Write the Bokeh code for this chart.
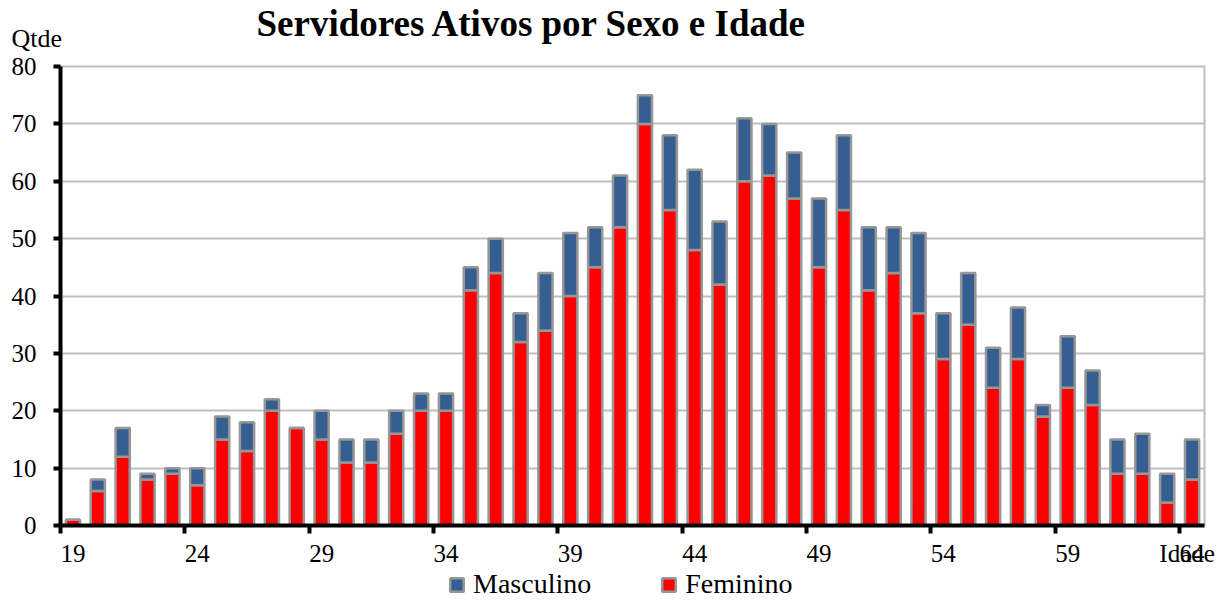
import numpy as np
from bokeh.plotting import figure
from bokeh.layouts import column
from bokeh.models import Range1d, FixedTicker, Legend, LegendItem, ColumnDataSource, Title
from bokeh.embed import file_html
from bokeh.resources import INLINE

# ---- data ----
idade = list(range(19, 65))
feminino = [1, 6, 12, 8, 9, 7, 15, 13, 20, 17,
            15, 11, 11, 16, 20, 20, 41, 44, 32, 34,
            40, 45, 52, 70, 55, 48, 42, 60, 61, 57,
            45, 55, 41, 44, 37, 29, 35, 24, 29, 19,
            24, 21, 9, 9, 4, 8]
masculino = [0, 2, 5, 1, 1, 3, 4, 5, 2, 0,
             5, 4, 4, 4, 3, 3, 4, 6, 5, 10,
             11, 7, 9, 5, 13, 14, 11, 11, 9, 8,
             12, 13, 11, 8, 14, 8, 9, 7, 9, 2,
             9, 6, 6, 7, 5, 7]
x_tick_labels = [19, 24, 29, 34, 39, 44, 49, 54, 59, 64]
y_ticks = [0, 10, 20, 30, 40, 50, 60, 70, 80]
x_axis_title_pos = 63.8   # where "Idade" sits on the x-axis label row

FONT = "Liberation Serif"
BLUE = "#365F91"
RED = "#FF0000"
EDGE = "#979797"

src = ColumnDataSource(dict(idade=idade, Feminino=feminino, Masculino=masculino))

p = figure(width=1219, height=569, output_backend="svg", toolbar_location=None,
           x_range=Range1d(18.5, 64.5), y_range=Range1d(0, 80),
           min_border_left=60, min_border_right=15, min_border_top=66, min_border_bottom=42,
           background_fill_color="white", border_fill_color="white")
p.title.text = "Servidores Ativos por Sexo e Idade"
p.title.text_font = FONT
p.title.text_font_style = "bold"
p.title.text_font_size = "37px"
p.title.text_color = "black"
p.title.align = "left"
p.title.offset = 196
p.title.standoff = -70
p.outline_line_color = "#BFBFBF"
p.outline_line_width = 2

# "Qtde" as a small left-aligned caption just above the plot area
p.add_layout(Title(text="Qtde", text_font=FONT, text_font_size="26px", text_font_style="normal",
                   text_color="black", align="left", offset=-49, standoff=27), "above")

rs = p.vbar_stack(["Feminino", "Masculino"], x="idade", width=0.57, source=src,
                  fill_color=[RED, BLUE], line_color=EDGE, line_width=2.5)

# x axis: labels at category centres, tick marks at category boundaries
xa = p.xaxis[0]
xa.ticker = FixedTicker(ticks=x_tick_labels + [x_axis_title_pos],
                        minor_ticks=[a - 0.5 for a in x_tick_labels])
xa.major_label_overrides = {x_axis_title_pos: "Idade"}
xa.major_tick_line_color = None
xa.major_tick_out = 8
xa.major_tick_in = 0
xa.minor_tick_line_color = "black"
xa.minor_tick_line_width = 4
xa.minor_tick_out = 8
xa.minor_tick_in = 0
xa.axis_line_color = "black"
xa.axis_line_width = 4
xa.major_label_text_font = FONT
xa.major_label_text_font_size = "25px"
xa.major_label_text_color = "black"
xa.major_label_standoff = 6

ya = p.yaxis[0]
ya.ticker = FixedTicker(ticks=y_ticks)
ya.minor_tick_line_color = None
ya.major_tick_line_color = "black"
ya.major_tick_line_width = 4
ya.major_tick_out = 7
ya.major_tick_in = 0
ya.axis_line_color = "black"
ya.axis_line_width = 4
ya.major_label_text_font = FONT
ya.major_label_text_font_size = "25px"
ya.major_label_text_color = "black"
ya.major_label_standoff = 17

p.xgrid.visible = False
p.ygrid.grid_line_color = "#BFBFBF"
p.ygrid.grid_line_width = 2

# ---- legend strip below the chart (legend swatches only, no data drawn) ----
lg = figure(width=1219, height=31, output_backend="svg", toolbar_location=None,
            x_range=Range1d(0, 1), y_range=Range1d(0, 1),
            x_axis_type=None, y_axis_type=None,
            min_border_left=0, min_border_right=0, min_border_top=0, min_border_bottom=0,
            background_fill_color="white", border_fill_color="white")
lg.outline_line_color = None
lg.grid.visible = False
swatch_src = ColumnDataSource(dict(x=np.array([0.5]), top=np.array([np.nan])))
r_masc = lg.vbar(x="x", top="top", width=0.5, source=swatch_src,
                 fill_color=BLUE, line_color=EDGE, line_width=2.5)
r_fem = lg.vbar(x="x", top="top", width=0.5, source=swatch_src,
                fill_color=RED, line_color=EDGE, line_width=2.5)
legend = Legend(items=[LegendItem(label="Masculino", renderers=[r_masc]),
                       LegendItem(label="Feminino", renderers=[r_fem])],
                orientation="horizontal", location=(388, 0),
                glyph_width=17, glyph_height=17, label_standoff=8, spacing=69,
                label_text_font=FONT, label_text_font_size="28px", label_text_color="black",
                padding=0, margin=0, border_line_alpha=0, background_fill_alpha=0)
lg.add_layout(legend, "center")

open("out.html", "w").write(file_html(column(p, lg), INLINE))
